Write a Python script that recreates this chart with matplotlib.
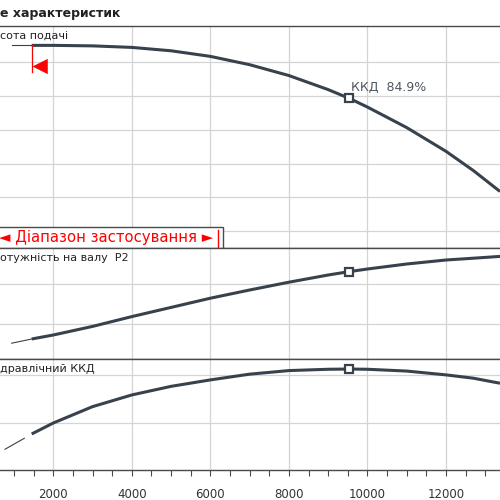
import matplotlib
matplotlib.use('Agg')
from matplotlib import pyplot as plt
from matplotlib.patches import Rectangle

#values (flow on the x axis)
Q = [1450, 2000, 3000, 4000, 5000, 6000, 7000, 8000, 9000, 9540, 10000, 11000, 12000, 12700, 13375]
H = [20.97, 20.97, 20.94, 20.85, 20.65, 20.32, 19.83, 19.19, 18.36, 17.84, 17.33, 16.12, 14.72, 13.58, 12.35]
P2 = [0.925, 0.945, 0.988, 1.037, 1.083, 1.129, 1.17, 1.209, 1.245, 1.262, 1.275, 1.30, 1.32, 1.329, 1.338]
ETA = [30.5, 39.7, 53.4, 63.2, 70.4, 75.8, 80.6, 83.6, 84.7, 84.9, 84.7, 83.2, 80.0, 77.2, 73.0]

#thin part of the curves below the usable range
Q_LOW = [941, 1450]
H_LOW = [20.97, 20.97]
P2_LOW = [0.904, 0.925]
Q_ETA_LOW = [770, 1262]
ETA_LOW = [17.7, 26.9]

#best efficiency point
Q_BEP = 9540
H_BEP = 17.84
P2_BEP = 1.262
ETA_BEP = 84.9

RANGE_START = 1450
X_TICKS = [2000, 4000, 6000, 8000, 10000, 12000]
X_MINOR = list(range(1000, 13500, 500))

LINE = '#38424d'
GRID = '#d4d4d4'
BORDER = '#4a4a4a'

fig = plt.figure(figsize=(5, 5), dpi=100)

def panel(bottom_px, top_px):
    ax = fig.add_axes([0, 1 - bottom_px / 500, 1, (bottom_px - top_px) / 500])
    for side in ['left', 'right']:
        ax.spines[side].set_visible(False)
    for side in ['top', 'bottom']:
        ax.spines[side].set_color(BORDER)
        ax.spines[side].set_linewidth(1.0)
    ax.set_xticks(X_TICKS)
    ax.set_xticks(X_MINOR, minor=True)
    ax.set_xlim(643, 13375)
    ax.tick_params(left=False, labelleft=False)
    ax.grid(True, color=GRID, linewidth=0.9)
    ax.set_axisbelow(True)
    return ax

ax1 = panel(248.3, 25.7)
ax2 = panel(359, 248.3)
ax3 = panel(470.4, 359)

for ax in (ax1, ax2):
    ax.tick_params(axis='x', which='both', bottom=False, labelbottom=False)

ax3.tick_params(axis='x', which='both', direction='out', length=4, width=0.8,
                color=BORDER, labelsize=8.5, labelcolor='#333333', pad=9)

#head
ax1.set_ylim(9.0, 22.13)
ax1.set_yticks([10, 12, 14, 16, 18, 20])
ax1.plot(Q_LOW, H_LOW, color=LINE, lw=0.8)
ax1.plot(Q, H, color=LINE, lw=2.2, solid_capstyle='butt')
ax1.plot(Q_BEP, H_BEP, 's', ms=5.5, mfc='white', mec=LINE, mew=1.6)
ax1.annotate('ККД  84.9%', (Q_BEP, H_BEP), xytext=(1, 3.5), textcoords='offset points',
             fontsize=9, color='#4d5660', va='bottom', ha='left')

#power
ax2.set_ylim(0.825, 1.3785)
ax2.set_yticks([1.0, 1.2])
ax2.plot(Q_LOW, P2_LOW, color=LINE, lw=0.8)
ax2.plot(Q, P2, color=LINE, lw=2.2, solid_capstyle='butt')
ax2.plot(Q_BEP, P2_BEP, 's', ms=5.5, mfc='white', mec=LINE, mew=1.6)

#efficiency
ax3.set_ylim(0, 93.3)
ax3.set_yticks([40, 80])
ax3.plot(Q_ETA_LOW, ETA_LOW, color=LINE, lw=0.8)
ax3.plot(Q, ETA, color=LINE, lw=2.2, solid_capstyle='butt')
ax3.plot(Q_BEP, ETA_BEP, 's', ms=5.5, mfc='white', mec=LINE, mew=1.6)

#start of the application range (red marker)
ax1.plot([RANGE_START, RANGE_START], [H[0], 19.42], color='red', lw=0.9)
ax1.plot(RANGE_START, 19.73, marker=[(0, 0), (1, 0.5), (1, -0.5)], ms=22,
         color='red', mew=0)

#panel labels
ax1.text(0.0, 0.975, 'сота подачі', transform=ax1.transAxes, va='top', ha='left',
         fontsize=8, color='#222222')
ax2.text(0.0, 0.955, 'отужність на валу  P2', transform=ax2.transAxes, va='top',
         ha='left', fontsize=8, color='#222222')
ax3.text(0.0, 0.955, 'дравлічний ККД', transform=ax3.transAxes, va='top', ha='left',
         fontsize=8, color='#222222')

#application range box
box = Rectangle((-0.01, 0), 0.4554, 0.097, transform=ax1.transAxes, facecolor='white',
                edgecolor=BORDER, lw=1.0, zorder=4, clip_on=False)
ax1.add_patch(box)
ax1.text(-0.002, 0.0485, '◄ Діапазон застосування ►', transform=ax1.transAxes,
         va='center', ha='left', fontsize=10.7, color='red', zorder=5)
ax1.plot([0.436, 0.436], [0.008, 0.083], transform=ax1.transAxes, color='red',
         lw=1.0, zorder=5)

fig.text(0.0, 1 - 13 / 500, 'е характеристик', fontsize=9, fontweight='bold',
         va='center', ha='left', color='#222222')

fig.savefig('out.png', dpi=100)
